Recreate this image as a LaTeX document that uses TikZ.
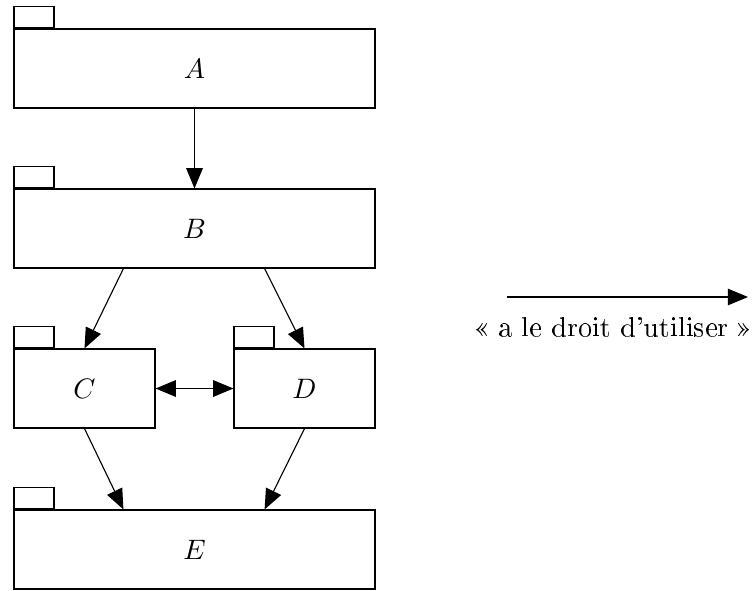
\documentclass[tikz,border=0pt]{standalone}
\usepackage[T1]{fontenc}
\usetikzlibrary{arrows.meta, positioning}
\tikzset{
  pkg/.style   = {draw, thin, minimum width=4.5125cm, minimum height=0.9875cm,
                  inner sep=0pt, font=\normalsize},
  spkg/.style  = {pkg, minimum width=1.7625cm},
  tab/.style   = {draw, thin, minimum width=0.5cm, minimum height=0.2625cm,
                  inner sep=0pt, anchor=south west},
  arrow/.style = {-{Triangle[length=7.2pt, width=5.9pt]}, thin},
  darrow/.style= {{Triangle[length=7.2pt, width=5.9pt]}-{Triangle[length=7.2pt, width=5.9pt]}, thin},
}

\begin{document}
\begin{tikzpicture}[x=0.0125cm, y=-0.0125cm]
  \useasboundingbox (0,0) rectangle (756,590);
  % packages
  \node[pkg]  (A) at (194.5,68.5)  {$A$};
  \node[pkg]  (B) at (194.5,228.5) {$B$};
  \node[spkg] (C) at (84.5,388.5)  {$C$};
  \node[spkg] (D) at (304.5,388.5) {$D$};
  \node[pkg]  (E) at (194.5,549.5) {$E$};
  \node[tab] (tabA) at (A.north west) {};
  \node[tab] (tabB) at (B.north west) {};
  \node[tab] (tabC) at (C.north west) {};
  \node[tab] (tabD) at (D.north west) {};
  \node[tab] (tabE) at (E.north west) {};
  % dependencies
  \draw[arrow] (A) -- (B);
  \draw[arrow] ([xshift=1.375cm]B.south west) -- (C.north);
  \draw[arrow] ([xshift=-1.3875cm]B.south east) -- (D.north);
  \draw[darrow] (C) -- (D);
  \draw[arrow] (C.south) -- ([xshift=1.375cm]E.north west);
  \draw[arrow] (D.south) -- ([xshift=-1.3875cm]E.north east);
  % legend
  \coordinate (legL) at (507,297);
  \coordinate (legR) at (748,297);
  \draw[arrow] (legL) -- (legR);
  \node[inner sep=0pt, anchor=north east] (leg) at (754,317) {\guillemotleft{} a le droit d'utiliser \guillemotright};
\end{tikzpicture}
\end{document}
